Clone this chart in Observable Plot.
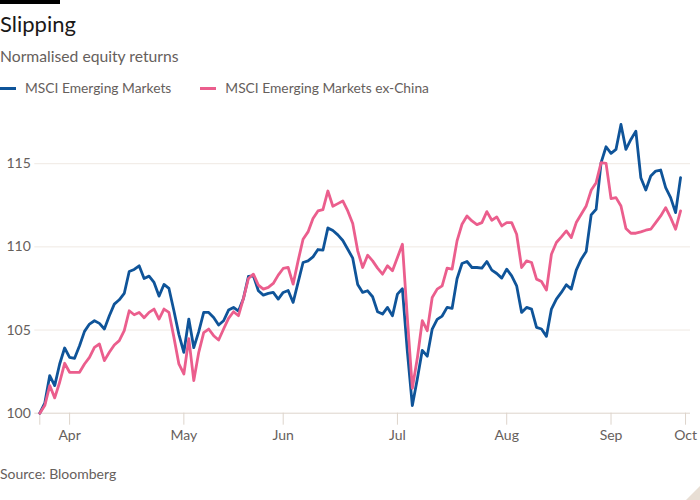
<!DOCTYPE html>
<html><head><meta charset="utf-8">
<script src="https://cdn.jsdelivr.net/npm/d3@7"></script>
<script src="https://cdn.jsdelivr.net/npm/@observablehq/plot@0.6"></script>
<style>
body{margin:0;width:700px;height:500px;position:relative;background:#fff;font-family:Lato,sans-serif;overflow:hidden}
.abs{position:absolute;white-space:nowrap;line-height:1}
#legend{position:absolute;left:0;top:81px;display:flex;align-items:center;font-size:13.8px;color:#66605c;line-height:14px}
.item{display:flex;align-items:center;margin-right:29px}
.sw{width:16px;height:3px;margin-right:9px}
</style></head><body>
<div class="abs" style="left:0;top:0;width:60px;height:4px;background:#000"></div>
<div class="abs" style="left:0;top:13px;font-size:22px;color:#1a1817">Slipping</div>
<div class="abs" style="left:0;top:49px;font-size:15.7px;color:#66605c">Normalised equity returns</div>
<div id="legend"></div>
<div id="chart" class="abs" style="left:0;top:100px"></div>
<div class="abs" style="left:0;top:467px;font-size:14px;color:#66605c">Source: Bloomberg</div>
<div class="abs" style="right:0;bottom:0;width:0;height:0;border-left:14px solid transparent;border-bottom:14px solid #e8ded4"></div>
<script>
const seriesNames = ["MSCI Emerging Markets", "MSCI Emerging Markets ex-China"];
const seriesColors = ["#0f5499", "#eb5e8d"];
const yTicks = [100, 105, 110, 115];
const tickLabels = ["", "Apr", "May", "Jun", "Jul", "Aug", "Sep", "Oct"];
const tickPos = [0, 6, 29, 49, 72, 94, 115, 130];

// trading-day index 0..129
const em = [
100.0,100.6,102.26,101.66,102.96,103.92,103.36,103.3,104.06,104.92,
105.36,105.56,105.4,105.06,105.86,106.56,106.82,107.2,108.52,108.64,
108.86,108.1,108.24,107.86,107.04,107.74,107.5,106.16,104.74,103.66,
105.66,103.94,104.9,106.06,106.06,105.76,105.3,105.56,106.2,106.36,
106.14,106.9,108.22,108.26,107.36,107.1,107.2,107.26,106.86,107.26,
107.38,106.66,107.86,109.06,109.16,109.4,109.84,109.8,111.14,110.98,
110.72,110.38,109.86,109.32,107.74,107.26,107.36,107.0,106.1,105.96,
106.36,105.86,107.16,107.48,103.7,100.46,102.06,103.78,103.43,105.06,
105.64,105.84,106.36,106.3,108.08,109.0,109.12,108.76,108.76,108.72,
109.12,108.6,108.4,108.12,108.66,108.26,107.66,106.06,106.36,106.26,
105.16,105.06,104.62,106.26,106.86,107.26,107.72,107.46,108.6,109.26,
109.72,111.92,112.26,115.06,116.02,115.62,115.86,117.36,115.86,116.46,
116.96,114.16,113.42,114.26,114.56,114.62,113.56,112.96,112.06,114.16
];
const emExChina = [
100.0,100.46,101.66,100.92,101.86,103.0,102.46,102.46,102.46,102.96,
103.36,103.96,104.16,103.16,103.66,104.1,104.36,104.96,106.16,105.92,
106.06,105.74,106.06,106.26,105.66,106.26,106.06,104.56,102.96,102.36,
104.48,101.96,103.66,104.84,105.06,104.66,104.4,105.06,105.7,106.1,
105.86,106.9,108.1,108.36,107.7,107.46,107.56,107.8,108.3,108.7,
108.76,107.76,109.16,110.46,110.9,111.7,112.16,112.24,113.36,112.44,
112.6,112.76,112.16,111.4,109.76,108.76,109.5,109.16,108.72,108.36,
108.86,108.56,109.36,110.16,105.7,101.5,103.3,105.56,104.96,106.96,
107.46,107.66,108.72,108.66,110.36,111.36,111.86,111.56,111.34,111.46,
112.12,111.6,111.8,111.26,111.46,111.46,110.76,108.76,109.16,109.06,
108.06,107.92,107.4,109.56,110.26,110.6,110.96,110.56,111.46,111.96,
112.46,113.4,113.86,115.06,115.02,112.9,112.96,112.46,111.1,110.82,
110.82,110.9,111.0,111.06,111.46,111.86,112.36,111.76,111.06,112.16
];
const seriesValues = [em, emExChina];

// legend
const legend = document.getElementById("legend");
seriesNames.forEach((name, k) => {
  const item = document.createElement("div");
  item.className = "item";
  const sw = document.createElement("div");
  sw.className = "sw";
  sw.style.background = seriesColors[k];
  const tx = document.createElement("span");
  tx.textContent = name;
  item.appendChild(sw); item.appendChild(tx);
  legend.appendChild(item);
});

const chart = Plot.plot({
  width: 700, height: 350,
  marginLeft: 34.3, marginRight: 10, marginTop: 13.3, marginBottom: 37.3,
  style: {fontFamily: "Lato, sans-serif", fontSize: "14px", color: "#66605c", background: "transparent", overflow: "visible"},
  x: {type: "linear", domain: [0, 131], insetLeft: 5},
  y: {domain: [100, 118]},
  marks: [
    Plot.ruleY(yTicks.filter(v => v !== 100), {stroke: "#efe9e3", strokeWidth: 1}),
    Plot.ruleY([100], {stroke: "#ddd4cb", strokeWidth: 1}),
    Plot.axisY(yTicks, {tickSize: 0, tickPadding: 4, color: "#66605c", fontSize: 14, label: null, tickFormat: d => String(d)}),
    Plot.axisX(tickPos, {tickSize: 12, tickPadding: 5, stroke: "#ddd4cb", fill: "#66605c", fontSize: 14, label: null,
      tickFormat: d => tickLabels[tickPos.indexOf(d)]}),
    ...seriesValues.map((vals, k) => Plot.line(vals, {x: (d, i) => i, y: d => d, stroke: seriesColors[k], strokeWidth: 2.8}))
  ]
});
document.getElementById("chart").appendChild(chart);
</script>
</body></html>
